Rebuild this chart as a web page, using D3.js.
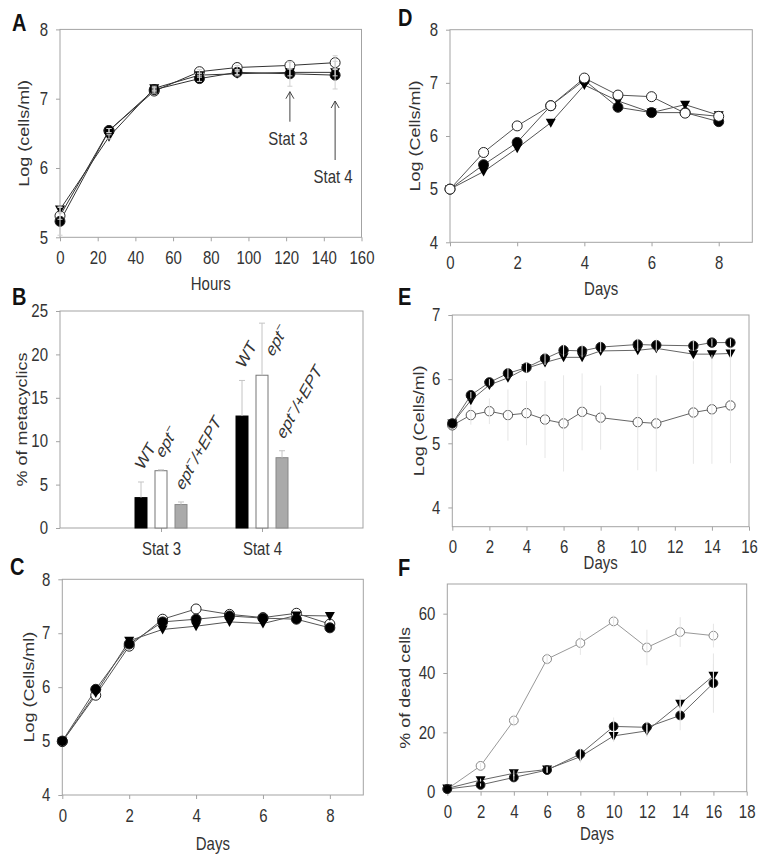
<html>
<head>
  <style>
    body { margin: 0; background: #fff; }
    text { font-family: 'Liberation Sans', Arial, sans-serif; }
  </style>
</head>
<body>

<script src="https://d3js.org/d3.v7.min.js"></script>

<script>
  // ---------------- data ----------------
  // panel A : growth in hours (filled = WT, open = ept-, triangle = ept-/+EPT)
  var hoursA = [0, 26, 50, 74, 94, 122, 146];
  var aWT = [5.23, 6.54, 7.13, 7.29, 7.38, 7.36, 7.34];
  var aEpt = [5.31, 6.54, 7.11, 7.39, 7.45, 7.48, 7.52];
  var aRescue = [5.40, 6.45, 7.15, 7.34, 7.36, 7.38, 7.38];
  var aWTErr = [0.2, 0.03, 0.03, 0.04, 0.03, 0.18, 0.2];
  var aEptErr = [0.05, 0.03, 0.03, 0.03, 0.03, 0.05, 0.1];
  var aRescueErr = [0.05, 0.03, 0.03, 0.03, 0.03, 0.05, 0.05];

  // panel B : % metacyclics at two stationary stages
  var stages = ['Stat 3', 'Stat 4'];
  var strains = ['WT', 'ept\u2212', 'ept\u2212/+EPT'];
  var bWT = [3.5, 12.9];
  var bEpt = [6.6, 17.6];
  var bRescue = [2.7, 8.1];
  var bWTErr = [1.8, 4.1];
  var bEptErr = [0.1, 6.0];
  var bRescueErr = [0.3, 0.8];

  // panel C
  var daysC = [0, 1, 2, 3, 4, 5, 6, 7, 8];
  var cWT = [5.0, 5.96, 6.80, 7.21, 7.26, 7.32, 7.28, 7.26, 7.10];
  var cEpt = [4.99, 5.85, 6.76, 7.26, 7.45, 7.35, 7.29, 7.37, 7.17];
  var cRescue = [4.99, 5.89, 6.86, 7.07, 7.13, 7.21, 7.18, 7.33, 7.32];

  // panel D
  var daysD = [0, 1, 2, 3, 4, 5, 6, 7, 8];
  var dWT = [5.0, 5.46, 5.88, 6.57, 7.05, 6.54, 6.44, 6.44, 6.27];
  var dEpt = [5.0, 5.69, 6.19, 6.57, 7.09, 6.77, 6.74, 6.43, 6.37];
  var dRescue = [5.0, 5.33, 5.77, 6.25, 6.96, 6.66, 6.44, 6.59, 6.39];

  // panel E
  var daysE = [0, 1, 2, 3, 4, 5, 6, 7, 8, 10, 11, 13, 14, 15];
  var eWT = [5.31, 5.75, 5.95, 6.09, 6.18, 6.32, 6.45, 6.44, 6.50, 6.54, 6.53, 6.52, 6.57, 6.57];
  var eRescue = [5.31, 5.67, 5.91, 6.02, 6.17, 6.26, 6.34, 6.34, 6.44, 6.45, 6.48, 6.39, 6.39, 6.40];
  var eEpt = [5.28, 5.44, 5.50, 5.44, 5.47, 5.37, 5.31, 5.49, 5.40, 5.33, 5.31, 5.48, 5.53, 5.59];
  var eWTErr = [0, 0.05, 0.05, 0.08, 0.08, 0.1, 0.1, 0.1, 0.08, 0.1, 0.1, 0.08, 0.06, 0.06];
  var eEptErr = [0, 0.15, 0.2, 0.4, 0.5, 0.6, 0.75, 0.6, 0.5, 0.75, 0.75, 0.8, 0.85, 0.9];

  // panel F : % dead cells
  var daysF = [0, 2, 4, 6, 8, 10, 12, 14, 16];
  var fEpt = [0.9, 8.7, 24.0, 44.7, 50.1, 57.4, 48.6, 53.8, 52.6];
  var fWT = [0.9, 2.3, 4.8, 7.3, 12.7, 22.0, 21.7, 25.7, 36.6];
  var fRescue = [1.1, 3.9, 6.2, 7.5, 11.8, 18.8, 20.5, 29.6, 39.1];
  var fEptErr = [0, 1, 2, 2, 4, 2, 6, 5, 4];
  var fWTErr = [0, 0.5, 1, 1, 2, 3, 2, 5, 10];
  var fRescueErr = [0, 0.5, 1, 1, 2, 2, 2, 3, 4];

  // tick labels
  var hourTicks = [0, 20, 40, 60, 80, 100, 120, 140, 160];
  var dayTicks8 = [0, 2, 4, 6, 8];
  var dayTicks16 = [0, 2, 4, 6, 8, 10, 12, 14, 16];
  var dayTicks18 = [0, 2, 4, 6, 8, 10, 12, 14, 16, 18];
  var logTicksA = [5, 6, 7, 8];
  var logTicks = [4, 5, 6, 7, 8];
  var logTicksE = [4, 5, 6, 7];
  var pctTicksB = [0, 5, 10, 15, 20, 25];
  var pctTicksF = [0, 20, 40, 60];

  // ---------------- drawing ----------------
  var width = 767;
  var height = 862;

  // the figure text is a bit taller than it is wide
  var stretch = 1.2;
  var fontSize = 15;
  var textColor = '#333';
  var frameColor = '#a3a3a3';

  var svg = d3.select('body')
              .append('svg')
              .attr('width', width)
              .attr('height', height);

  svg.append('rect')
     .attr('width', width)
     .attr('height', height)
     .attr('fill', '#fff');

  //text with the vertical stretch applied
  function addText(x, y, str, angle, anchor, size, weight) {
    return svg.append('text')
      .attr('transform', 'translate(' + x + ',' + y + ') scale(1,' + stretch + ') rotate(' + (angle || 0) + ')')
      .attr('text-anchor', anchor || 'middle')
      .attr('font-size', size || fontSize)
      .attr('font-weight', weight || 'normal')
      .attr('fill', textColor)
      .text(str);
  }

  function styleAxis(g) {
    g.attr('font-size', fontSize)
     .attr('font-family', "'Liberation Sans', Arial, sans-serif");
    g.select('.domain').remove();
    g.selectAll('.tick line').attr('stroke', frameColor);
    g.selectAll('.tick text').each(function () {
      var t = d3.select(this);
      var tx = +t.attr('x') || 0;
      var ty = +t.attr('y') || 0;
      t.attr('transform', 'translate(' + tx + ',' + ty + ') scale(1,' + stretch + ')')
       .attr('x', 0)
       .attr('y', 0)
       .attr('fill', textColor);
    });
  }

  function drawPanel(p) {
    var x = d3.scaleLinear().domain(p.xDomain).range([p.left, p.right]);
    var y = d3.scaleLinear().domain(p.yDomain).range([p.bottom, p.top]);

    //grey frame round the plot
    svg.append('rect')
       .attr('x', p.left)
       .attr('y', p.top)
       .attr('width', p.right - p.left)
       .attr('height', p.bottom - p.top)
       .attr('fill', 'none')
       .attr('stroke', frameColor);

    var xAxis = d3.axisBottom(x).tickValues(p.xTicks).tickSize(4).tickPadding(10)
                  .tickFormat(p.xFormat || d3.format('d'));
    var gx = svg.append('g')
                .attr('transform', 'translate(0,' + p.bottom + ')')
                .call(xAxis);
    styleAxis(gx);

    var gy = svg.append('g')
                .attr('transform', 'translate(' + p.left + ',0)')
                .call(d3.axisLeft(y).tickValues(p.yTicks).tickSize(4).tickPadding(8).tickFormat(d3.format('d')));
    styleAxis(gy);

    if (p.xTitle) addText((p.left + p.right) / 2, p.xTitleY, p.xTitle);
    addText(p.yTitleX, (p.top + p.bottom) / 2, p.yTitle, -90);
    addText(p.letterX, p.letterY, p.letter, 0, 'start', 20, 'bold').attr('fill', '#111');

    return { x: x, y: y };
  }

  var triangle = 'M-5,-4L5,-4L0,5Z';

  //lines first, then markers, then the faint error bars on top
  function drawSeries(sc, xs, list, errColor, caps) {
    var line = d3.line()
                 .x(function (d) { return sc.x(d[0]); })
                 .y(function (d) { return sc.y(d[1]); });

    list.forEach(function (s) {
      svg.append('path')
         .attr('d', line(d3.zip(xs, s.values)))
         .attr('fill', 'none')
         .attr('stroke', s.line)
         .attr('stroke-width', 1);
    });

    list.forEach(function (s) {
      var pts = d3.zip(xs, s.values);
      if (s.shape === 'triangle') {
        svg.selectAll(null).data(pts).enter()
           .append('path')
           .attr('d', triangle)
           .attr('transform', function (d) { return 'translate(' + sc.x(d[0]) + ',' + sc.y(d[1]) + ')'; })
           .attr('fill', '#000');
      } else {
        svg.selectAll(null).data(pts).enter()
           .append('circle')
           .attr('cx', function (d) { return sc.x(d[0]); })
           .attr('cy', function (d) { return sc.y(d[1]); })
           .attr('r', s.r || 5)
           .attr('fill', s.shape === 'open' ? '#fff' : '#000')
           .attr('stroke', s.stroke || '#222')
           .attr('stroke-width', 1);
      }
    });

    list.forEach(function (s) {
      if (!s.errs) return;
      for (var i = 0; i < xs.length; i++) {
        if (!s.errs[i]) continue;
        var cx = sc.x(xs[i]);
        var y1 = sc.y(s.values[i] - s.errs[i]);
        var y2 = sc.y(s.values[i] + s.errs[i]);
        var d = 'M' + cx + ',' + y1 + 'V' + y2;
        if (caps) d += 'M' + (cx - 2.5) + ',' + y1 + 'H' + (cx + 2.5) + 'M' + (cx - 2.5) + ',' + y2 + 'H' + (cx + 2.5);
        svg.append('path')
           .attr('d', d)
           .attr('stroke', errColor)
           .attr('stroke-width', 1)
           .attr('fill', 'none');
      }
    });
  }

  // ---- A ----
  var sa = drawPanel({ left: 60, right: 361.5, top: 29.4, bottom: 237.3,
                       xDomain: [0, 160], yDomain: [5, 8], xTicks: hourTicks, yTicks: logTicksA,
                       xTitle: 'Hours', xTitleY: 290, yTitle: 'Log (cells/ml)', yTitleX: 29,
                       letter: 'A', letterX: 12, letterY: 31 });
  drawSeries(sa, hoursA, [
    { values: aEpt, errs: aEptErr, shape: 'open', line: '#333' },
    { values: aWT, errs: aWTErr, shape: 'filled', line: '#333' },
    { values: aRescue, errs: aRescueErr, shape: 'triangle', line: '#333' }
  ], '#d0d0d0', true);

  //arrows marking the stationary stages
  function statArrow(xv, yLow, yHigh, label, labelY) {
    var xp = sa.x(xv);
    svg.append('line')
       .attr('x1', xp).attr('x2', xp)
       .attr('y1', yLow).attr('y2', yHigh)
       .attr('stroke', '#444');
    svg.append('path')
       .attr('d', 'M' + (xp - 4) + ',' + (yHigh + 7) + 'L' + xp + ',' + yHigh + 'L' + (xp + 4) + ',' + (yHigh + 7))
       .attr('fill', 'none')
       .attr('stroke', '#444');
    addText(xp - 2, labelY, label);
  }
  statArrow(hoursA[5], 121.7, 91.7, stages[0], 144.5);
  statArrow(hoursA[6], 160, 101, stages[1], 183);

  // ---- B ----
  var sb = drawPanel({ left: 60, right: 363, top: 311, bottom: 528,
                       xDomain: [0, 3], yDomain: [0, 25], xTicks: [1, 2], yTicks: pctTicksB,
                       xFormat: function (d) { return stages[d - 1]; },
                       yTitle: '% of metacyclics', yTitleX: 27,
                       letter: 'B', letterX: 12, letterY: 305 });

  var bSeries = [bWT, bEpt, bRescue];
  var bErrs = [bWTErr, bEptErr, bRescueErr];
  var barFill = ['#000', '#fff', '#aaa'];
  var barStroke = ['#000', '#777', '#888'];
  var barOffset = [-20, 0, 20];
  var barWidth = 12;

  function strainLabel(x0, y0, name) {
    var t = svg.append('text')
               .attr('transform', 'translate(' + x0 + ',' + y0 + ') scale(1,' + stretch + ') rotate(-56)')
               .attr('text-anchor', 'start')
               .attr('font-size', fontSize)
               .attr('fill', textColor);
    var parts = name.split('\u2212');
    if (parts.length === 1) {
      t.text(name);
    } else {
      t.append('tspan').attr('font-style', 'italic').text(parts[0]);
      t.append('tspan').attr('font-size', 11).attr('dy', -6).text('\u2212');
      t.append('tspan').attr('font-style', 'italic').attr('dy', 6).text(parts[1]);
    }
    return t;
  }

  for (var s = 0; s < stages.length; s++) {
    for (var k = 0; k < bSeries.length; k++) {
      var cx = sb.x(s + 1) + barOffset[k];
      var v = bSeries[k][s];
      var e = bErrs[k][s];

      svg.append('rect')
         .attr('x', cx - barWidth / 2)
         .attr('y', sb.y(v))
         .attr('width', barWidth)
         .attr('height', sb.y(0) - sb.y(v))
         .attr('fill', barFill[k])
         .attr('stroke', barStroke[k]);

      //upper error bar only
      svg.append('path')
         .attr('d', 'M' + cx + ',' + sb.y(v) + 'V' + sb.y(v + e) + 'M' + (cx - 3) + ',' + sb.y(v + e) + 'H' + (cx + 3))
         .attr('stroke', '#c4c4c4')
         .attr('fill', 'none');

      //label above the error bar, or beside it if it would leave the plot
      var lab = strainLabel(cx + 2, sb.y(v + e) - 11, strains[k]);
      if (lab.node().getBoundingClientRect().top < 311) {
        lab.remove();
        strainLabel(cx + 11, sb.y(v) - 18, strains[k]);
      }
    }
  }

  // ---- C ----
  var sc = drawPanel({ left: 62.3, right: 363.3, top: 579.3, bottom: 795,
                       xDomain: [0, 9], yDomain: [4, 8], xTicks: dayTicks8, yTicks: logTicks,
                       xTitle: 'Days', xTitleY: 850, yTitle: 'Log (Cells/ml)', yTitleX: 34,
                       letter: 'C', letterX: 10, letterY: 575 });
  drawSeries(sc, daysC, [
    { values: cEpt, shape: 'open', line: '#555' },
    { values: cWT, shape: 'filled', line: '#555' },
    { values: cRescue, shape: 'triangle', line: '#555' }
  ]);

  // ---- D ----
  var sd = drawPanel({ left: 450, right: 752.3, top: 29.7, bottom: 242.3,
                       xDomain: [0, 9], yDomain: [4, 8], xTicks: dayTicks8, yTicks: logTicks,
                       xTitle: 'Days', xTitleY: 295, yTitle: 'Log (Cells/ml)', yTitleX: 420,
                       letter: 'D', letterX: 398, letterY: 26 });
  drawSeries(sd, daysD, [
    { values: dWT, shape: 'filled', line: '#555' },
    { values: dRescue, shape: 'triangle', line: '#555' },
    { values: dEpt, shape: 'open', line: '#555' }
  ]);

  // ---- E ----
  var se = drawPanel({ left: 452.3, right: 749, top: 315, bottom: 526.7,
                       xDomain: [0, 16], yDomain: [3.7, 7], xTicks: dayTicks16, yTicks: logTicksE,
                       xTitle: 'Days', xTitleY: 569, yTitle: 'Log (Cells/ml)', yTitleX: 424,
                       letter: 'E', letterX: 398, letterY: 305 });
  drawSeries(se, daysE, [
    { values: eEpt, errs: eEptErr, shape: 'open', line: '#666', stroke: '#555', r: 4.7 },
    { values: eRescue, shape: 'triangle', line: '#666' },
    { values: eWT, errs: eWTErr, shape: 'filled', line: '#666', r: 4.7 }
  ], '#e6e6e6', false);

  // ---- F ----
  var sf = drawPanel({ left: 447.3, right: 746.7, top: 584, bottom: 791.7,
                       xDomain: [0, 18], yDomain: [0, 70], xTicks: dayTicks18, yTicks: pctTicksF,
                       xTitle: 'Days', xTitleY: 840, yTitle: '% of dead cells', yTitleX: 410,
                       letter: 'F', letterX: 398, letterY: 576 });
  drawSeries(sf, daysF, [
    { values: fEpt, errs: fEptErr, shape: 'open', line: '#999', stroke: '#888', r: 4.4 },
    { values: fRescue, errs: fRescueErr, shape: 'triangle', line: '#666' },
    { values: fWT, errs: fWTErr, shape: 'filled', line: '#666', r: 4.4 }
  ], '#e6e6e6', false);
</script>

</body>
</html>
